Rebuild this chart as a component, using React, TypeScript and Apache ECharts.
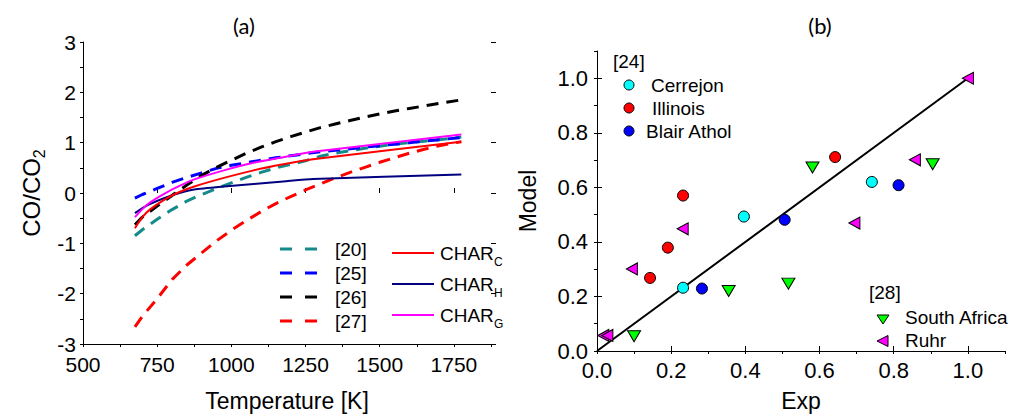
import React, { useEffect, useRef } from 'react';
import * as echarts from 'echarts';

// ---------- Panel (a) data ----------
const tempDashed = [675, 700, 750, 800, 850, 900, 950, 1000, 1050, 1100, 1150, 1200, 1250, 1300, 1350, 1400, 1450, 1500, 1550, 1600, 1650, 1700, 1775];
const ref20 = [-0.85, -0.73, -0.52, -0.33, -0.16, -0.03, 0.09, 0.2, 0.31, 0.41, 0.5, 0.57, 0.64, 0.73, 0.79, 0.84, 0.89, 0.93, 0.97, 1.0, 1.03, 1.06, 1.11];
const ref25 = [-0.1, -0.03, 0.09, 0.21, 0.31, 0.4, 0.49, 0.55, 0.6, 0.65, 0.7, 0.74, 0.78, 0.82, 0.85, 0.88, 0.91, 0.94, 0.97, 1.0, 1.03, 1.06, 1.1];
const ref26 = [-0.63, -0.48, -0.26, -0.05, 0.16, 0.35, 0.51, 0.65, 0.79, 0.91, 1.02, 1.12, 1.21, 1.3, 1.37, 1.44, 1.51, 1.57, 1.63, 1.68, 1.73, 1.78, 1.85];
const ref27 = [-2.66, -2.45, -2.1, -1.72, -1.43, -1.19, -0.95, -0.74, -0.55, -0.37, -0.21, -0.07, 0.06, 0.18, 0.3, 0.41, 0.51, 0.61, 0.7, 0.79, 0.87, 0.94, 1.02];

const tempModel = [675, 700, 725, 775, 825, 875, 975, 1075, 1175, 1275, 1775];
const charC = [-0.7, -0.48, -0.33, -0.13, 0.02, 0.13, 0.3, 0.45, 0.57, 0.67, 1.02];
const charH = [-0.4, -0.3, -0.22, -0.1, 0.0, 0.07, 0.13, 0.18, 0.23, 0.28, 0.37];
const charG = [-0.48, -0.32, -0.19, -0.01, 0.14, 0.27, 0.45, 0.6, 0.71, 0.82, 1.16];

// ---------- Panel (b) data ----------
const cerrejonExp = [0.232, 0.396, 0.741];
const cerrejonModel = [0.232, 0.493, 0.62];
const illinoisExp = [0.143, 0.191, 0.232, 0.642];
const illinoisModel = [0.268, 0.379, 0.57, 0.711];
const blairExp = [0.283, 0.506, 0.813];
const blairModel = [0.229, 0.481, 0.608];
const southAfricaExp = [0.1, 0.355, 0.516, 0.581, 0.905];
const southAfricaModel = [0.054, 0.22, 0.247, 0.673, 0.685];
const ruhrExp = [0.017, 0.028, 0.094, 0.231, 0.694, 0.857, 1.0];
const ruhrModel = [0.057, 0.057, 0.301, 0.448, 0.469, 0.701, 1.0];
const parityLine = [0, 1];

const FONT = 'Liberation Sans, Arial, sans-serif';
const TEAL = '#158a8a';
const NAVY = '#000080';

function pairs(xs: number[], ys: number[]) {
  return xs.map((x, i) => [x, ys[i]]);
}

function mainAxis(gridIndex: number, min: number, max: number, step: number, fmt: (v: number) => string, fontSize: number, margin: number, extra: any = {}) {
  return {
    type: 'value', gridIndex, min, max, interval: step,
    axisLine: { show: true, onZero: false, lineStyle: { color: '#000', width: 1 } },
    axisTick: { show: true, inside: false, length: 3, lineStyle: { color: '#000', width: 1 } },
    axisLabel: { show: true, formatter: fmt, color: '#000', fontSize, fontFamily: FONT, margin, showMinLabel: true, showMaxLabel: true, hideOverlap: false },
    splitLine: { show: false },
    ...extra,
  };
}

function majorAxis(gridIndex: number, min: number, max: number, step: number, majors: number[]) {
  return {
    type: 'value', gridIndex, min, max, interval: step,
    axisLine: { show: false },
    axisTick: { show: true, inside: false, length: 5, customValues: majors, lineStyle: { color: '#000', width: 1 } },
    axisLabel: { show: false },
    splitLine: { show: false },
  };
}

export default function App() {
  const ref = useRef<HTMLDivElement>(null);
  useEffect(() => {
    if (!ref.current) return;
    const chart = echarts.init(ref.current, undefined, { renderer: 'svg' });

    const dashed = (name: string, t: number[], v: number[], color: string) => ({
      name, type: 'line', xAxisIndex: 0, yAxisIndex: 0, data: pairs(t, v),
      symbol: 'none', showSymbol: false,
      lineStyle: { color, width: 3, type: [12, 8], cap: 'butt' },
    });
    const solid = (name: string, t: number[], v: number[], color: string) => ({
      name, type: 'line', xAxisIndex: 0, yAxisIndex: 0, data: pairs(t, v),
      symbol: 'none', showSymbol: false, smooth: 0.2,
      lineStyle: { color, width: 2 },
    });
    const scatter = (name: string, xs: number[], ys: number[], color: string, symbol: string, size: any, rotate: number) => ({
      name, type: 'scatter', xAxisIndex: 2, yAxisIndex: 2, data: pairs(xs, ys),
      symbol, symbolSize: size, symbolRotate: rotate,
      itemStyle: { color, borderColor: '#000', borderWidth: 1, opacity: 1 },
      z: 3,
    });

    const txt = (x: number, y: number, text: string, fontSize = 19, family = FONT) => ({
      type: 'text', x, y, z: 10,
      style: { text, fontSize, fontFamily: family, fill: '#000', align: 'left', verticalAlign: 'middle' },
    });
    const legLine = (x1: number, x2: number, y: number, color: string, width: number, dash?: number[]) => ({
      type: 'line', z: 10,
      shape: { x1, y1: y, x2, y2: y },
      style: { stroke: color, lineWidth: width, lineDash: dash || null },
    });

    const option: any = {
      animation: false,
      backgroundColor: '#fff',
      grid: [
        { left: 83, top: 42, width: 408, height: 304, containLabel: false },
        { left: 597, top: 51, width: 408, height: 304, containLabel: false },
      ],
      xAxis: [
        mainAxis(0, 500, 1875, 125, (v) => (v % 250 === 0 && v <= 1750 ? String(v) : ''), 21, 10, {
          name: 'Temperature [K]', nameLocation: 'middle', nameGap: 45,
          nameTextStyle: { color: '#000', fontSize: 23, fontFamily: FONT },
        }),
        majorAxis(0, 500, 1875, 250, [500, 750, 1000, 1250, 1500, 1750]),
        mainAxis(1, 0, 1.1, 0.1, (v) => { const r = Math.round(v * 10); return r % 2 === 0 && r <= 10 ? (r / 10).toFixed(1) : ''; }, 22, 8, {
          name: 'Exp', nameLocation: 'middle', nameGap: 38,
          nameTextStyle: { color: '#000', fontSize: 23, fontFamily: FONT },
        }),
        majorAxis(1, 0, 1.1, 0.2, [0, 0.2, 0.4, 0.6, 0.8, 1.0]),
      ],
      yAxis: [
        mainAxis(0, -3, 3, 0.5, (v) => (Math.abs(v - Math.round(v)) < 1e-9 ? String(Math.round(v)) : ''), 21, 7, {
          name: 'CO/CO{sub|2}', nameLocation: 'middle', nameGap: 36,
          nameTextStyle: {
            color: '#000', fontSize: 24, fontFamily: FONT, lineHeight: 32, padding: [0, 0, 0, 0],
            rich: { sub: { fontSize: 16, fontFamily: FONT, color: '#000', verticalAlign: 'bottom', lineHeight: 32 } },
          },
        }),
        majorAxis(0, -3, 3, 1, [-3, -2, -1, 0, 1, 2, 3]),
        mainAxis(1, 0, 1.1, 0.1, (v) => { const r = Math.round(v * 10); return r % 2 === 0 && r <= 10 ? (r / 10).toFixed(1) : ''; }, 22, 9, {
          name: 'Model', nameLocation: 'middle', nameGap: 58,
          nameTextStyle: { color: '#000', fontSize: 23, fontFamily: FONT },
        }),
        majorAxis(1, 0, 1.1, 0.2, [0, 0.2, 0.4, 0.6, 0.8, 1.0]),
      ],
      series: [
        dashed('[20]', tempDashed, ref20, TEAL),
        dashed('[25]', tempDashed, ref25, '#0000ff'),
        dashed('[26]', tempDashed, ref26, '#000000'),
        dashed('[27]', tempDashed, ref27, '#ff0000'),
        solid('CHAR_H', tempModel, charH, NAVY),
        solid('CHAR_C', tempModel, charC, '#ff0000'),
        solid('CHAR_G', tempModel, charG, '#ff00ff'),
        {
          name: 'parity', type: 'line', xAxisIndex: 2, yAxisIndex: 2, data: pairs(parityLine, parityLine),
          symbol: 'none', showSymbol: false, lineStyle: { color: '#000', width: 2 }, z: 2,
        },
        scatter('Cerrejon', cerrejonExp, cerrejonModel, '#00ffff', 'circle', 11, 0),
        scatter('Illinois', illinoisExp, illinoisModel, '#ff0000', 'circle', 11, 0),
        scatter('Blair Athol', blairExp, blairModel, '#0000ff', 'circle', 11, 0),
        scatter('South Africa', southAfricaExp, southAfricaModel, '#00ff00', 'triangle', [13, 11], 180),
        scatter('Ruhr', ruhrExp, ruhrModel, '#ff00ff', 'triangle', [12, 11], 90),
      ],
      graphic: [
        // titles
        { type: 'text', x: 244, y: 25, z: 10, style: { text: '(a)', fontSize: 22, fontFamily: 'Lato, Open Sans, sans-serif', fill: '#000', align: 'center', verticalAlign: 'middle' } },
        { type: 'text', x: 820, y: 25, z: 10, style: { text: '(b)', fontSize: 22, fontFamily: 'Lato, Open Sans, sans-serif', fill: '#000', align: 'center', verticalAlign: 'middle' } },
        // panel (a) legend - dashed
        legLine(280, 317, 249, TEAL, 3, [12, 13]),
        legLine(280, 317, 273, '#0000ff', 3, [12, 13]),
        legLine(280, 317, 297, '#000000', 3, [12, 13]),
        legLine(280, 317, 321, '#ff0000', 3, [12, 13]),
        txt(335, 249, '[20]'),
        txt(335, 273, '[25]'),
        txt(335, 297, '[26]'),
        txt(335, 321, '[27]'),
        // panel (a) legend - solid
        legLine(392, 434, 253, '#ff0000', 2),
        legLine(392, 434, 284, NAVY, 2),
        legLine(392, 434, 315, '#ff00ff', 2),
        txt(440, 253, 'CHAR'),
        txt(440, 284, 'CHAR'),
        txt(440, 315, 'CHAR'),
        txt(494, 262, 'C', 12),
        txt(494, 293, 'H', 12),
        txt(494, 324, 'G', 12),
        // panel (b) legend
        txt(613, 61, '[24]'),
        { type: 'circle', z: 10, shape: { cx: 629, cy: 85, r: 5 }, style: { fill: '#00ffff', stroke: '#000', lineWidth: 1 } },
        { type: 'circle', z: 10, shape: { cx: 629, cy: 108, r: 5 }, style: { fill: '#ff0000', stroke: '#000', lineWidth: 1 } },
        { type: 'circle', z: 10, shape: { cx: 629, cy: 131, r: 5 }, style: { fill: '#0000ff', stroke: '#000', lineWidth: 1 } },
        txt(651, 85, 'Cerrejon'),
        txt(652, 108, 'Illinois'),
        txt(646, 131, 'Blair Athol'),
        txt(869, 292, '[28]'),
        { type: 'polygon', z: 10, shape: { points: [[877, 315], [889, 315], [883, 324]] }, style: { fill: '#00ff00', stroke: '#000', lineWidth: 1 } },
        { type: 'polygon', z: 10, shape: { points: [[877, 341], [888, 335.5], [888, 346.5]] }, style: { fill: '#ff00ff', stroke: '#000', lineWidth: 1 } },
        txt(905, 317, 'South Africa'),
        txt(905, 340, 'Ruhr'),
      ],
    };
    chart.setOption(option);
    return () => chart.dispose();
  }, []);

  return <div ref={ref} style={{ position: 'absolute', left: 0, top: 0, width: 1013, height: 417 }} />;
}
